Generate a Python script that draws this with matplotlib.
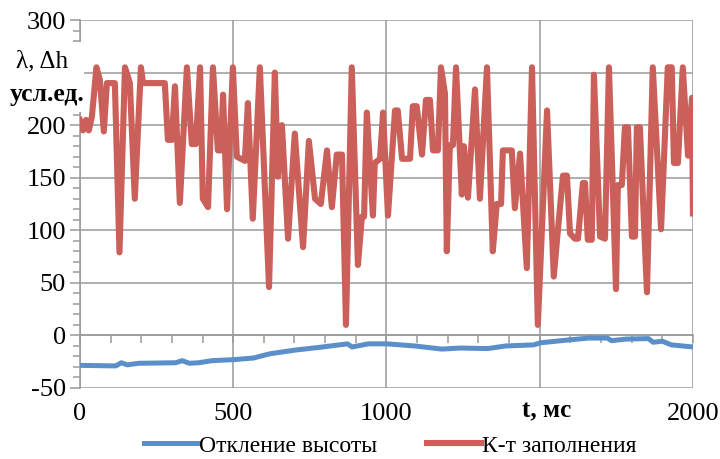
import numpy as np
import matplotlib
matplotlib.use("Agg")
import matplotlib.pyplot as plt
from matplotlib.ticker import MultipleLocator
from matplotlib.patches import Rectangle

plt.rcParams['font.family'] = ['Liberation Serif', 'DejaVu Serif']
plt.rcParams['axes.unicode_minus'] = False

# К-т заполнения (время, мс / значение)
t_fill = [0, 10, 20, 29, 39, 54, 65, 78, 88, 114, 129, 147, 163, 179, 199, 206,
          277, 287, 300, 310, 326, 349, 365, 378, 392, 401, 418, 434, 450, 460,
          467, 480, 499, 512, 538, 548, 564, 587, 617, 636, 646, 659, 679, 701,
          728, 747, 767, 786, 806, 822, 838, 855, 868, 887, 907, 920, 927, 936,
          956, 962, 979, 989, 1005, 1028, 1037, 1051, 1077, 1086, 1099, 1116,
          1129, 1142, 1152, 1168, 1178, 1191, 1197, 1207, 1217, 1227, 1246, 1253,
          1266, 1289, 1305, 1328, 1347, 1360, 1374, 1380, 1409, 1419, 1436, 1458,
          1475, 1494, 1524, 1546, 1560, 1576, 1589, 1599, 1615, 1625, 1641, 1648,
          1657, 1670, 1677, 1697, 1713, 1726, 1749, 1755, 1768, 1778, 1788, 1801,
          1811, 1817, 1827, 1850, 1869, 1896, 1918, 1931, 1938, 1951, 1967, 1984,
          1997, 2000]
k_fill = [205, 195, 205, 195, 208, 255, 243, 194, 240, 240, 79, 255, 240, 130,
          255, 240, 240, 186, 186, 237, 126, 255, 182, 182, 255, 130, 122, 255,
          176, 176, 229, 120, 255, 170, 166, 221, 111, 255, 46, 250, 151, 200,
          92, 192, 84, 185, 130, 125, 176, 122, 172, 172, 10, 255, 67, 113, 113,
          212, 114, 164, 168, 212, 114, 214, 214, 168, 168, 218, 218, 172, 224,
          224, 176, 176, 255, 230, 80, 181, 181, 255, 134, 180, 131, 234, 130,
          255, 80, 125, 125, 176, 176, 121, 173, 64, 255, 10, 214, 56, 102, 152,
          152, 97, 92, 92, 145, 145, 91, 91, 248, 94, 92, 255, 44, 143, 143, 198,
          198, 94, 94, 198, 198, 41, 255, 101, 255, 255, 164, 164, 255, 171, 226,
          116]

# Откление высоты
t_dev = [0, 117, 135, 154, 192, 312, 334, 357, 387, 431, 503, 566, 619, 701,
         791, 873, 888, 941, 1001, 1091, 1181, 1240, 1330, 1390, 1480, 1503,
         1570, 1660, 1720, 1735, 1780, 1855, 1870, 1900, 1930, 2000]
h_dev = [-28.5, -29, -26, -28, -26.5, -26, -24, -26.5, -26, -24, -23, -21.5,
         -17.5, -14, -11, -8, -11, -8, -8, -10, -13, -12, -12.5, -10, -9, -7,
         -5, -2.5, -2.5, -5, -3.5, -3, -6.5, -5.5, -9, -11]

x_ticks = [0, 500, 1000, 1500, 2000]
x_labels = ['0', '500', '1000', '', '2000']
y_ticks = [-50, 0, 50, 100, 150, 200, 250, 300]
y_labels = ['-50', '0', '50', '100', '150', '200', '', '300']

blue = '#5A8FC9'
red = '#CB605B'
grid_c = '#9A9A9A'

W, H = 720, 459
fig = plt.figure(figsize=(7.2, 4.59), dpi=100)
ax = fig.add_axes([0.111, 0.1547, 0.8514, 0.8017])

ax.plot(t_dev, h_dev, color=blue, lw=3.6, solid_joinstyle='round',
        label='Откление высоты', zorder=3)
ax.plot(t_fill, k_fill, color=red, lw=4.4, solid_joinstyle='round',
        label='К-т заполнения', zorder=4)

ax.set_xlim(0, 2000)
ax.set_ylim(-50, 300)
ax.set_xticks(x_ticks)
ax.set_yticks(y_ticks)
ax.set_yticklabels(y_labels)
ax.yaxis.set_minor_locator(MultipleLocator(10))
ax.xaxis.set_minor_locator(MultipleLocator(100))
ax.grid(True, which='major', color=grid_c, lw=1.1)
ax.set_axisbelow(True)

for s in ['top', 'right']:
    ax.spines[s].set_visible(False)
ax.spines['left'].set_color(grid_c)
ax.spines['left'].set_linewidth(1.1)
ax.spines['bottom'].set_position(('data', 0))
ax.spines['bottom'].set_color(grid_c)
ax.spines['bottom'].set_linewidth(1.1)

ax.tick_params(axis='y', which='both', direction='out', color=grid_c,
               width=1.1, labelsize=19, pad=3)
ax.tick_params(axis='y', which='major', length=7)
ax.tick_params(axis='y', which='minor', length=5)
ax.tick_params(axis='x', which='both', direction='out', color=grid_c,
               width=1.1, length=6, labelbottom=False)

sec = ax.secondary_xaxis('bottom')
sec.set_xticks(x_ticks)
sec.set_xticklabels(x_labels)
sec.spines['bottom'].set_visible(False)
sec.tick_params(length=0, labelsize=19, pad=11)

ax.text(1522, -72, 't, мс', fontsize=18, fontweight='bold',
        ha='center', va='center')

# белая подложка под подписью оси Y
fig.add_artist(Rectangle((0, 1 - 112 / H), 84 / W, 70 / H,
                         transform=fig.transFigure, facecolor='white',
                         edgecolor='none', zorder=5))
fig.text(42 / W, 1 - 61 / H, 'λ, Δh', fontsize=18, ha='center', va='center',
         zorder=6)
fig.text(47 / W, 1 - 94 / H, 'усл.ед.', fontsize=18.5, fontweight='bold',
         ha='center', va='center', zorder=6)

leg = fig.legend(loc='center', bbox_to_anchor=(0.542, 1 - 446 / H), ncol=2,
                 frameon=False, fontsize=17, handlelength=2.3,
                 handletextpad=0.05, columnspacing=2.1, borderaxespad=0)

fig.savefig('out.png', dpi=100)
